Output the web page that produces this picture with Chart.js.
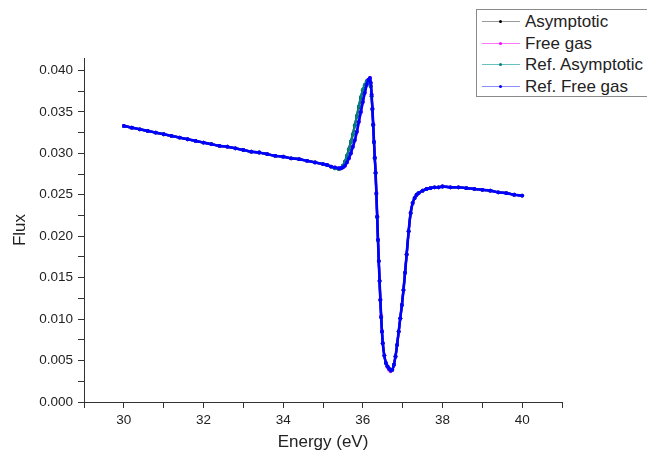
<!DOCTYPE html>
<html>
<head>
<meta charset="utf-8">
<script src="https://cdn.jsdelivr.net/npm/chart.js@4.4.0/dist/chart.umd.min.js"></script>
<style>
  html, body { margin: 0; padding: 0; background: #fff; overflow: hidden; }
  #wrap { position: relative; width: 647px; height: 459px; overflow: hidden; }
  #legend {
    position: absolute; left: 476px; top: 9px; width: 200px; height: 88px;
    border: 1px solid #8a8a8a; box-sizing: border-box; background: #fff;
    font-family: "Liberation Sans", Arial, sans-serif; font-size: 17px; color: #222;
    padding-top: 1px;
  }
  .row { position: relative; height: 21.5px; line-height: 21.5px; padding-left: 48px; white-space: nowrap; }
  .row .ln { position: absolute; left: 5px; top: 10px; width: 38px; height: 1px; }
  .row .dot { position: absolute; left: 22px; top: 9px; width: 3px; height: 3px; border-radius: 50%; }
</style>
</head>
<body>
<div id="wrap">
  <canvas id="myChart" width="647" height="459"></canvas>
  <div id="legend"></div>
</div>
<script>
// Energia (eV) - eixo X
const energy = [
  30.0, 30.2, 30.4, 30.6, 30.8, 31.0, 31.2, 31.4, 31.6, 31.8,
  32.0, 32.2, 32.4, 32.6, 32.8, 33.0, 33.2, 33.4, 33.6, 33.8,
  34.0, 34.2, 34.4, 34.6, 34.8, 35.0,
  35.1, 35.2, 35.3, 35.4,
  35.45, 35.5, 35.55, 35.6, 35.65, 35.7, 35.75, 35.8, 35.85, 35.9, 35.95, 36.0, 36.05, 36.1,
  36.14, 36.18,
  36.2, 36.22, 36.24, 36.26, 36.28, 36.3, 36.32, 36.34, 36.36, 36.38, 36.4, 36.42, 36.44, 36.46, 36.48, 36.5,
  36.54, 36.58, 36.62, 36.66, 36.7, 36.74, 36.78, 36.82, 36.86, 36.9, 36.94, 36.98, 37.02, 37.06, 37.1,
  37.15, 37.2, 37.25, 37.3, 37.35, 37.4,
  37.5, 37.6, 37.7, 37.8, 37.9, 38.0,
  38.2, 38.4, 38.6, 38.8, 39.0, 39.2, 39.4, 39.6, 39.8, 40.0
];

// Fluxo - Asymptotic (preto)
const fluxAsymptotic = [
  0.0333, 0.0331, 0.0329, 0.0327, 0.0325, 0.0323, 0.0321, 0.0319, 0.0317, 0.0315,
  0.0313, 0.0311, 0.0309, 0.0308, 0.0306, 0.0304, 0.0302, 0.0301, 0.0299, 0.0297,
  0.0296, 0.0294, 0.0293, 0.0291, 0.0289, 0.0287,
  0.0286, 0.0284, 0.0282, 0.0281,
  0.0282, 0.0285, 0.0290, 0.0297, 0.0305, 0.0314, 0.0323, 0.0334, 0.0345, 0.0356, 0.0367, 0.0376, 0.0382, 0.0387,
  0.0388, 0.0386,
  0.0381, 0.0369, 0.0353, 0.0334, 0.0313, 0.0294, 0.0276, 0.0251, 0.0223, 0.0195, 0.0170, 0.0146, 0.0123, 0.0103, 0.0085, 0.0071,
  0.0056, 0.0047, 0.0043, 0.0040, 0.0038, 0.0039, 0.0045, 0.0055, 0.0069, 0.0085, 0.0101, 0.0117, 0.0135, 0.0156, 0.0178,
  0.0206, 0.0228, 0.0240, 0.0246, 0.0250, 0.0252,
  0.0255, 0.0257, 0.0258, 0.0259, 0.0259, 0.0260,
  0.0259, 0.0259, 0.0258, 0.0257, 0.0256, 0.0255, 0.0253, 0.0252, 0.0250, 0.0249
];

// Fluxo - Free gas (magenta)
const fluxFreeGas = [
  0.0333, 0.0331, 0.0329, 0.0327, 0.0325, 0.0323, 0.0321, 0.0319, 0.0317, 0.0315,
  0.0313, 0.0311, 0.0309, 0.0308, 0.0306, 0.0304, 0.0302, 0.0301, 0.0299, 0.0297,
  0.0296, 0.0294, 0.0293, 0.0291, 0.0289, 0.0287,
  0.0286, 0.0284, 0.0283, 0.0282,
  0.0282, 0.0283, 0.0285, 0.0289, 0.0294, 0.0300, 0.0308, 0.0316, 0.0326, 0.0338, 0.0350, 0.0362, 0.0373, 0.0383,
  0.0389, 0.0391,
  0.0385, 0.0371, 0.0354, 0.0335, 0.0314, 0.0295, 0.0277, 0.0252, 0.0224, 0.0196, 0.0170, 0.0146, 0.0124, 0.0104, 0.0086, 0.0071,
  0.0056, 0.0047, 0.0042, 0.0039, 0.0037, 0.0039, 0.0045, 0.0055, 0.0069, 0.0085, 0.0101, 0.0117, 0.0135, 0.0156, 0.0178,
  0.0206, 0.0228, 0.0240, 0.0246, 0.0250, 0.0252,
  0.0255, 0.0257, 0.0258, 0.0259, 0.0259, 0.0260,
  0.0259, 0.0259, 0.0258, 0.0257, 0.0256, 0.0255, 0.0253, 0.0252, 0.0250, 0.0249
];

// Fluxo - Ref. Asymptotic (ciano escuro)
const fluxRefAsymptotic = [
  0.0333, 0.0331, 0.0329, 0.0327, 0.0325, 0.0323, 0.0321, 0.0319, 0.0317, 0.0315,
  0.0313, 0.0311, 0.0309, 0.0308, 0.0306, 0.0304, 0.0302, 0.0301, 0.0299, 0.0297,
  0.0296, 0.0294, 0.0293, 0.0291, 0.0289, 0.0287,
  0.0286, 0.0284, 0.0282, 0.0281,
  0.0282, 0.0285, 0.0290, 0.0297, 0.0305, 0.0314, 0.0323, 0.0334, 0.0345, 0.0357, 0.0368, 0.0377, 0.0383, 0.0387,
  0.0388, 0.0386,
  0.0381, 0.0369, 0.0353, 0.0334, 0.0313, 0.0294, 0.0276, 0.0251, 0.0223, 0.0195, 0.0170, 0.0146, 0.0123, 0.0102, 0.0085, 0.0071,
  0.0056, 0.0047, 0.0043, 0.0040, 0.0038, 0.0039, 0.0045, 0.0055, 0.0069, 0.0085, 0.0101, 0.0117, 0.0135, 0.0156, 0.0178,
  0.0206, 0.0228, 0.0240, 0.0246, 0.0250, 0.0252,
  0.0255, 0.0257, 0.0258, 0.0259, 0.0259, 0.0260,
  0.0259, 0.0259, 0.0258, 0.0257, 0.0256, 0.0255, 0.0253, 0.0252, 0.0250, 0.0249
];

// Fluxo - Ref. Free gas (azul)
const fluxRefFreeGas = [
  0.0333, 0.0331, 0.0329, 0.0327, 0.0325, 0.0323, 0.0321, 0.0319, 0.0317, 0.0315,
  0.0313, 0.0311, 0.0309, 0.0308, 0.0306, 0.0304, 0.0302, 0.0301, 0.0299, 0.0297,
  0.0296, 0.0294, 0.0293, 0.0291, 0.0289, 0.0287,
  0.0286, 0.0284, 0.0283, 0.0282,
  0.0282, 0.0283, 0.0285, 0.0289, 0.0294, 0.0300, 0.0308, 0.0316, 0.0326, 0.0338, 0.0350, 0.0362, 0.0373, 0.0383,
  0.0389, 0.0391,
  0.0385, 0.0371, 0.0354, 0.0335, 0.0314, 0.0295, 0.0277, 0.0252, 0.0224, 0.0196, 0.0170, 0.0146, 0.0123, 0.0102, 0.0085, 0.0071,
  0.0056, 0.0047, 0.0043, 0.0040, 0.0038, 0.0039, 0.0045, 0.0055, 0.0069, 0.0085, 0.0101, 0.0117, 0.0135, 0.0156, 0.0178,
  0.0206, 0.0228, 0.0240, 0.0246, 0.0250, 0.0252,
  0.0255, 0.0257, 0.0258, 0.0259, 0.0259, 0.0260,
  0.0259, 0.0259, 0.0258, 0.0257, 0.0256, 0.0255, 0.0253, 0.0252, 0.0250, 0.0249
];

const seriesNames = ['Asymptotic', 'Free gas', 'Ref. Asymptotic', 'Ref. Free gas'];
const seriesValues = [fluxAsymptotic, fluxFreeGas, fluxRefAsymptotic, fluxRefFreeGas];
const seriesColors = ['#000000', '#ff00ff', '#008080', '#0000ff'];
const legendLineColors = ['#9a9a9a', '#ff77ff', '#66c0c0', '#8c8cff'];
const drawOrder = [3, 2, 1, 0]; // azul por cima

const xTicksMajor = [30, 32, 34, 36, 38, 40];

function toPoints(values) {
    return energy.map((e, i) => ({ x: e, y: values[i] }));
}

const font = "'Liberation Sans', Arial, sans-serif";

new Chart(document.getElementById('myChart').getContext('2d'), {
    type: 'line',
    data: {
        datasets: seriesNames.map((name, k) => ({
            label: name,
            data: toPoints(seriesValues[k]),
            borderColor: seriesColors[k],
            backgroundColor: seriesColors[k],
            borderWidth: k === 3 ? 2.6 : 2.2,
            pointRadius: 1.9,
            pointBorderWidth: 0,
            cubicInterpolationMode: 'monotone',
            fill: false,
            order: drawOrder[k]
        }))
    },
    options: {
        responsive: false,
        animation: false,
        layout: { padding: { top: 58, right: 85, left: 0, bottom: 0 } },
        plugins: {
            legend: { display: false },
            tooltip: { enabled: false }
        },
        scales: {
            x: {
                type: 'linear',
                min: 29,
                max: 41,
                afterFit: (scale) => { scale.height = 57; },
                border: { display: true, color: '#333', width: 1 },
                grid: { drawOnChartArea: false, drawTicks: true, tickLength: 6, tickColor: '#333' },
                ticks: {
                    stepSize: 1,
                    padding: 4,
                    color: '#222',
                    font: { family: font, size: 13.5 },
                    maxRotation: 0,
                    autoSkip: false,
                    callback: (v) => xTicksMajor.includes(v) ? String(v) : ''
                },
                title: {
                    display: true,
                    text: 'Energy (eV)',
                    color: '#222',
                    font: { family: font, size: 17 },
                    padding: { top: 0, bottom: 6 }
                }
            },
            y: {
                min: 0,
                max: 0.0415,
                afterFit: (scale) => { scale.width = 84; },
                border: { display: true, color: '#333', width: 1 },
                grid: { drawOnChartArea: false, drawTicks: true, tickLength: 6, tickColor: '#333' },
                ticks: {
                    stepSize: 0.0025,
                    includeBounds: false,
                    padding: 5,
                    color: '#222',
                    autoSkip: false,
                    font: { family: font, size: 13.5 },
                    callback: (v) => {
                        const r = v / 0.005;
                        return Math.abs(r - Math.round(r)) < 1e-6 ? v.toFixed(3) : '';
                    }
                },
                title: {
                    display: true,
                    text: 'Flux',
                    color: '#222',
                    font: { family: font, size: 17 },
                    padding: { top: 10, bottom: 0 }
                }
            }
        }
    }
});

// Legenda em HTML (caixa cortada na borda direita, como no original)
const legend = document.getElementById('legend');
seriesNames.forEach((name, k) => {
    const row = document.createElement('div');
    row.className = 'row';
    const ln = document.createElement('span');
    ln.className = 'ln';
    ln.style.background = legendLineColors[k];
    const dot = document.createElement('span');
    dot.className = 'dot';
    dot.style.background = seriesColors[k];
    row.appendChild(ln);
    row.appendChild(dot);
    row.appendChild(document.createTextNode(name));
    legend.appendChild(row);
});
</script>
</body>
</html>
